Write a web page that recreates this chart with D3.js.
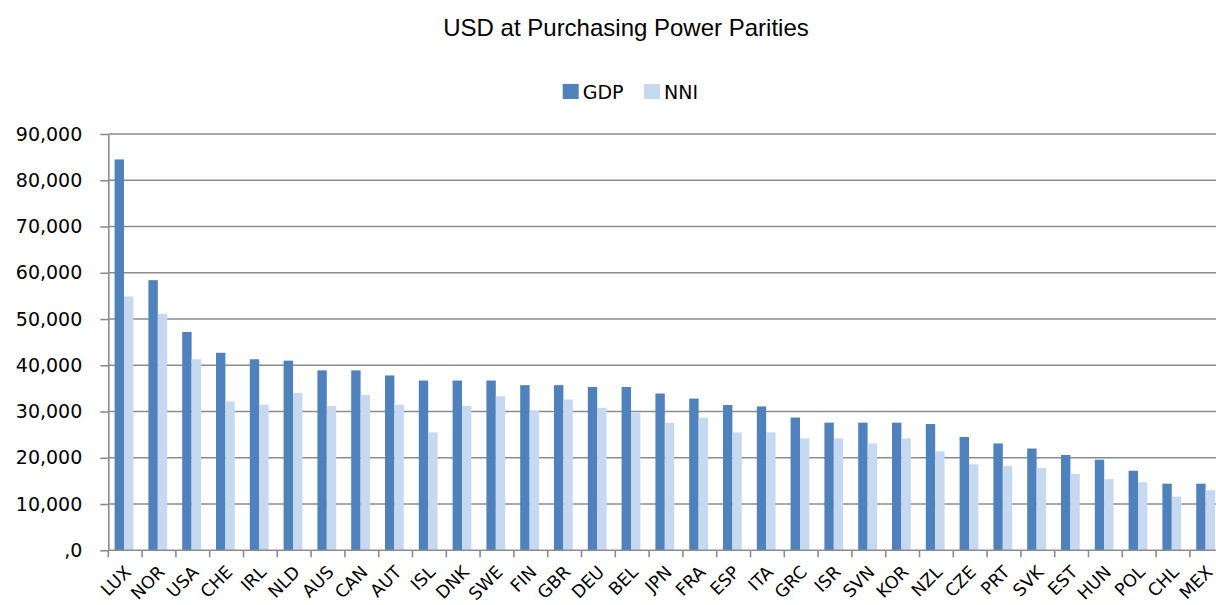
<!DOCTYPE html>
<html>
<head>
<meta charset="utf-8">
<script src="https://cdn.jsdelivr.net/npm/d3@7"></script>
<style>
  html, body { margin: 0; padding: 0; background: #fff; }
  svg { display: block; }
</style>
</head>
<body>
<svg id="chart" width="1216" height="605"></svg>
<script>
const categories = ["LUX","NOR","USA","CHE","IRL","NLD","AUS","CAN","AUT","ISL","DNK","SWE","FIN","GBR","DEU","BEL","JPN","FRA","ESP","ITA","GRC","ISR","SVN","KOR","NZL","CZE","PRT","SVK","EST","HUN","POL","CHL","MEX"];
const gdp = [84500,58400,47200,42700,41300,41000,38900,38900,37800,36700,36700,36700,35700,35700,35300,35300,33900,32800,31400,31100,28700,27600,27600,27600,27300,24500,23100,22000,20600,19600,17200,14400,14400];
const nni = [54900,51100,41300,32200,31500,34000,31200,33600,31500,25500,31200,33300,30100,32600,30800,29800,27600,28700,25500,25500,24200,24200,23100,24200,21400,18600,18200,17800,16500,15400,14700,11600,13000];
const seriesNames = ["GDP","NNI"];
const seriesColors = ["#4F81BD","#C6D9F1"];
const yTicks = [0,10000,20000,30000,40000,50000,60000,70000,80000,90000];
const yTickLabels = [",0","10,000","20,000","30,000","40,000","50,000","60,000","70,000","80,000","90,000"];
const title = "USD at Purchasing Power Parities";

(function () {
const svg = d3.select("#chart");
const pLeft = 108.3, pRight = 108.3 + 33 * 33.8, pTop = 134, pBottom = 550.3;

const x = d3.scaleBand().domain(categories).range([pLeft, pRight]).padding(0);
const xi = d3.scaleBand().domain(seriesNames).range([0, x.bandwidth()]).paddingInner(0).paddingOuter(0.8).align(0.42);
const y = d3.scaleLinear().domain([0, 90000]).range([pBottom, pTop]);

// gridlines
svg.append("g").selectAll("line").data(yTicks.slice(1)).join("line")
  .attr("x1", pLeft).attr("x2", 1216)
  .attr("y1", d => y(d)).attr("y2", d => y(d))
  .attr("stroke", "#8c8c8c").attr("stroke-width", 1.6);

// bars
const data = categories.map((c, i) => ({c, vals: [gdp[i], nni[i]]}));
const groups = svg.append("g").selectAll("g").data(data).join("g")
  .attr("transform", d => `translate(${x(d.c)},0)`);
groups.selectAll("rect").data(d => d.vals.map((v, j) => ({v, s: seriesNames[j], j}))).join("rect")
  .attr("x", d => xi(d.s)).attr("width", xi.bandwidth())
  .attr("y", d => y(d.v)).attr("height", d => y(0) - y(d.v))
  .attr("fill", d => seriesColors[d.j]);

// y axis
const yAxis = d3.axisLeft(y).tickValues(yTicks).tickFormat((d, i) => yTickLabels[i]).tickSize(8).tickSizeOuter(0).tickPadding(18);
const gy = svg.append("g").attr("transform", `translate(${pLeft},0)`).call(yAxis);
gy.select(".domain").attr("stroke", "#8c8c8c").attr("stroke-width", 1.6);
gy.selectAll(".tick line").attr("stroke", "#8c8c8c").attr("stroke-width", 1.6);
gy.selectAll("text").attr("font-family", "DejaVu Sans, Verdana, sans-serif").attr("font-size", 19).attr("fill", "#000");

// x axis
const gx = svg.append("g").attr("transform", `translate(0,${pBottom})`);
gx.append("line").attr("x1", pLeft).attr("x2", 1216).attr("y1", 0).attr("y2", 0)
  .attr("stroke", "#8c8c8c").attr("stroke-width", 1.6);
gx.selectAll(".tk").data(categories).join("line").attr("class", "tk")
  .attr("x1", d => x(d)).attr("x2", d => x(d)).attr("y1", 0).attr("y2", 7)
  .attr("stroke", "#8c8c8c").attr("stroke-width", 1.6);
gx.selectAll("text").data(categories).join("text")
  .attr("transform", d => `translate(${x(d) + x.bandwidth() / 2 - 2},${14}) rotate(-45)`)
  .attr("text-anchor", "end").attr("dy", "0.72em")
  .attr("font-family", "DejaVu Sans, Verdana, sans-serif").attr("font-size", 17.5).attr("fill", "#000")
  .text(d => d);

// title
svg.append("text").attr("x", 626).attr("y", 36).attr("text-anchor", "middle")
  .attr("font-family", "Liberation Sans, Arial, sans-serif").attr("font-size", 24).attr("fill", "#000")
  .text(title);

// legend
const legX = [562.7, 644];
const leg = svg.append("g").selectAll("g").data(seriesNames).join("g")
  .attr("transform", (d, i) => `translate(${legX[i]},84)`);
leg.append("rect").attr("width", 16).attr("height", 15).attr("fill", (d, i) => seriesColors[i]);
leg.append("text").attr("x", 20).attr("y", 15).attr("font-family", "DejaVu Sans, Verdana, sans-serif")
  .attr("font-size", 19).attr("fill", "#000").text(d => d);
})();
</script>
</body>
</html>
